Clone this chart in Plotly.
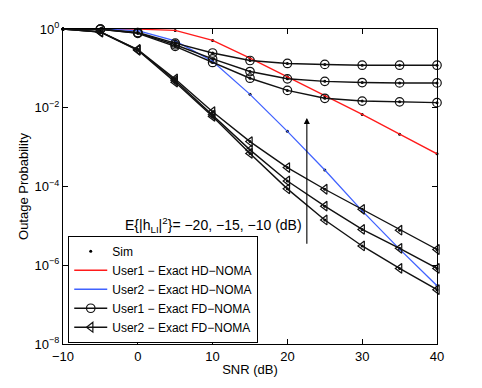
import plotly.graph_objects as go

snr = [-10, -5, 0, 5, 10, 15, 20, 25, 30, 35, 40]

# log10 of outage probability
user1_hd = [0.0, -0.001, -0.005, -0.036, -0.29, -0.74, -1.21, -1.70, -2.17, -2.67, -3.17]
user2_hd = [0.0, -0.002, -0.04, -0.30, -0.82, -1.66, -2.60, -3.58, -4.62, -5.59, -6.52]

# User1 FD-NOMA for E{|h_LI|^2} = -10, -15, -20 dB
user1_fd = {
    "-10": [0.0, -0.004, -0.09, -0.36, -0.61, -0.80, -0.875, -0.90, -0.92, -0.92, -0.92],
    "-15": [0.0, -0.005, -0.10, -0.40, -0.76, -1.08, -1.265, -1.33, -1.36, -1.37, -1.37],
    "-20": [0.0, -0.006, -0.11, -0.44, -0.85, -1.25, -1.56, -1.76, -1.83, -1.85, -1.87],
}
# User2 FD-NOMA
user2_fd = {
    "-10": [0.0, -0.07, -0.52, -1.27, -2.10, -2.86, -3.52, -4.07, -4.58, -5.11, -5.60],
    "-15": [0.0, -0.075, -0.53, -1.31, -2.18, -3.07, -3.86, -4.50, -5.09, -5.57, -6.08],
    "-20": [0.0, -0.08, -0.54, -1.35, -2.22, -3.16, -4.06, -4.85, -5.51, -6.08, -6.62],
}

arrow_snr = 22.6
arrow_from = -5.49
arrow_to = -2.26
label_text = "E{|h<sub>LI</sub>|<sup>2</sup>}= −20, −15, −10 (dB)"

y_tick_exp = [0, -2, -4, -6, -8]
x_ticks = [-10, 0, 10, 20, 30, 40]

def p(v):
    return [10 ** a for a in v]

RED = "#ff1a1a"
BLUE = "#4062ff"
BLACK = "#111111"

fig = go.Figure()

# Sim legend entry + dots
sim_x, sim_y = [], []
for series in [user1_hd, user2_hd] + list(user1_fd.values()) + list(user2_fd.values()):
    sim_x += snr
    sim_y += p(series)
fig.add_trace(go.Scatter(x=sim_x, y=sim_y, mode="markers", name="Sim",
                         marker=dict(color="black", size=3), cliponaxis=False))

fig.add_trace(go.Scatter(x=snr, y=p(user1_hd), mode="lines", name="User1 − Exact HD−NOMA",
                         line=dict(color=RED, width=1.3)))
fig.add_trace(go.Scatter(x=snr, y=p(user2_hd), mode="lines", name="User2 − Exact HD−NOMA",
                         line=dict(color=BLUE, width=1.3)))

for i, (k, v) in enumerate(user1_fd.items()):
    fig.add_trace(go.Scatter(x=snr[:2], y=p(v[:2]), mode="lines", showlegend=False,
                             line=dict(color=BLACK, width=1.4)))
    fig.add_trace(go.Scatter(x=snr[1:], y=p(v[1:]), mode="lines+markers",
                             name="User1 − Exact FD−NOMA", showlegend=(i == 0),
                             line=dict(color=BLACK, width=1.4), cliponaxis=False,
                             marker=dict(symbol="circle-open", size=8.5, color=BLACK,
                                         line=dict(width=1.2, color=BLACK))))
for i, (k, v) in enumerate(user2_fd.items()):
    fig.add_trace(go.Scatter(x=snr[:2], y=p(v[:2]), mode="lines", showlegend=False,
                             line=dict(color=BLACK, width=1.4)))
    fig.add_trace(go.Scatter(x=snr[1:], y=p(v[1:]), mode="lines+markers",
                             name="User2 − Exact FD−NOMA", showlegend=(i == 0),
                             line=dict(color=BLACK, width=1.4), cliponaxis=False,
                             marker=dict(symbol="triangle-left-open", size=8.5, color=BLACK,
                                         line=dict(width=1.2, color=BLACK))))

fig.add_annotation(x=arrow_snr, y=arrow_to, ax=arrow_snr, ay=arrow_from,
                   xref="x", yref="y", axref="x", ayref="y", text="",
                   showarrow=True, arrowhead=2, arrowsize=1.1, arrowwidth=1.1,
                   arrowcolor="black")
fig.add_annotation(x=22.2, y=-4.98, xref="x", yref="y", text=label_text,
                   showarrow=False, xanchor="right", yanchor="middle",
                   font=dict(size=14, color="black", family="Liberation Sans, Arial"))

fig.update_xaxes(range=[-10, 40], tickvals=x_ticks, ticks="inside", ticklen=5,
                 showline=True, linecolor="black", linewidth=1, mirror="ticks",
                 showgrid=False, zeroline=False, tickcolor="black",
                 title=dict(text="SNR (dB)", standoff=2, font=dict(size=13)),
                 tickfont=dict(size=13))
fig.update_yaxes(type="log", range=[-8, 0], tickvals=[10 ** e for e in y_tick_exp],
                 ticktext=["10<sup>%s</sup>" % (str(e).replace("-", "−")) for e in y_tick_exp],
                 ticks="inside", ticklen=5, showline=True, linecolor="black", linewidth=1,
                 mirror="ticks", showgrid=False, zeroline=False, tickcolor="black",
                 title=dict(text="Outage Probability", standoff=3, font=dict(size=13)),
                 tickfont=dict(size=13))

fig.update_layout(
    width=482, height=388,
    margin=dict(l=63, r=45, t=29, b=44),
    paper_bgcolor="white", plot_bgcolor="white",
    font=dict(family="Liberation Sans, Arial", size=13, color="black"),
    showlegend=True,
    legend=dict(x=0.014, y=0.004, xanchor="left", yanchor="bottom",
                bgcolor="white", bordercolor="black", borderwidth=1,
                font=dict(size=12), itemwidth=33, tracegroupgap=0),
)

fig.write_html("out.html", config={"displayModeBar": False},
               post_script="document.body.style.margin='0px';document.body.style.overflow='hidden';")
